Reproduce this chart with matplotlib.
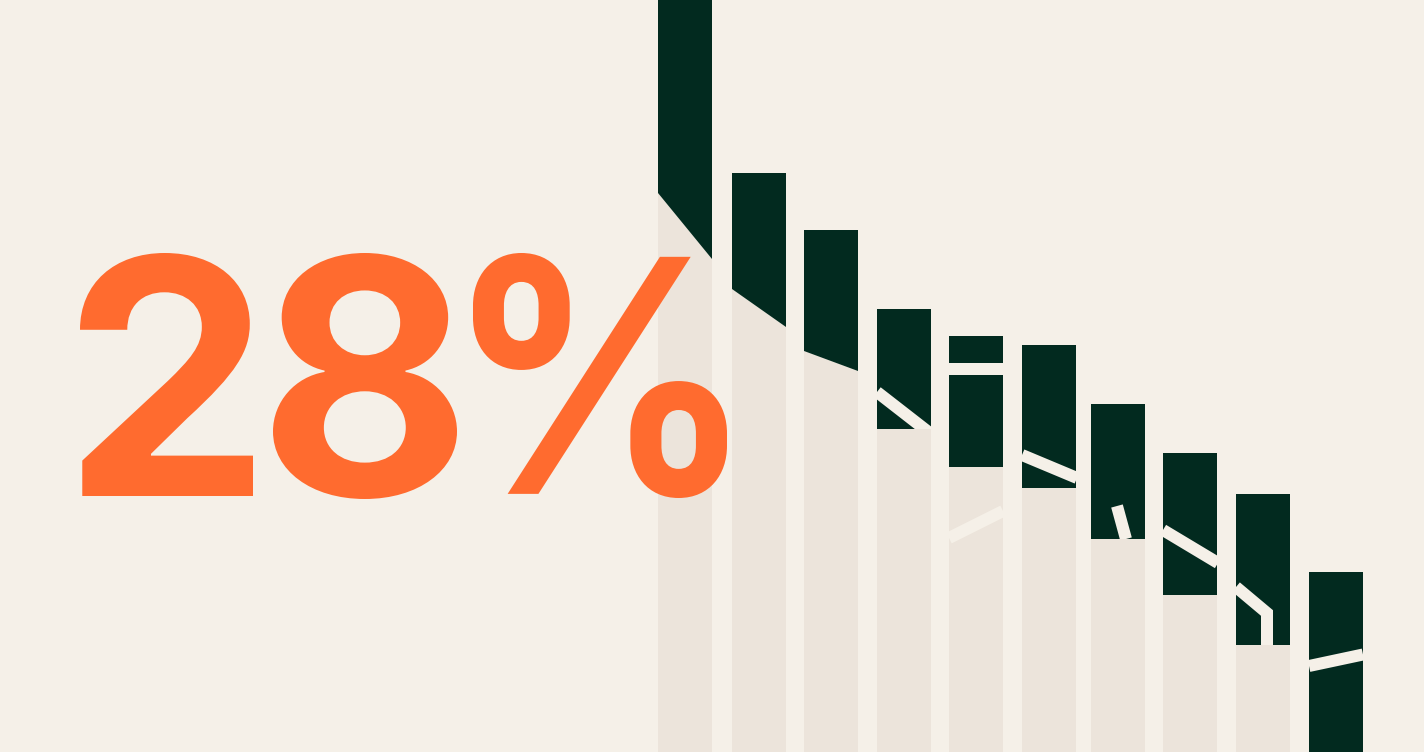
import matplotlib
matplotlib.use("Agg")
import matplotlib.pyplot as plt
from matplotlib.patches import Polygon, Rectangle, PathPatch
from matplotlib.textpath import TextPath
from matplotlib.font_manager import FontProperties
from matplotlib.transforms import Affine2D

# =================== DATA ===================
# canvas units: x 0..1424, y 0..752 (y up)
BAR_X      = [685, 759, 831, 904, 976, 1049, 1118, 1190, 1263, 1336]
BAR_TOP    = [760, 579, 522, 443, 416, 407, 348, 299, 258, 180]
# where the dark part ends (left edge, right edge)
SPLIT_L    = [559, 463, 401, 323, 285, 264, 213, 157, 107, 0]
SPLIT_R    = [493, 425, 381, 323, 285, 264, 213, 157, 107, 0]

# white cut strokes per bar: (xs, ys, clip to "dark" part or whole "bar")
CUTS = {
    3: [([877, 931], [360, 318], "dark")],
    4: [([949, 1003], [383, 383], "dark"), ([949, 1003], [214, 241], "bar")],
    5: [([1022, 1077], [297, 274], "dark")],
    6: [([1117, 1126], [246, 213], "dark")],
    7: [([1163, 1218], [222, 189], "dark")],
    8: [([1236, 1267, 1267], [165, 139, 100], "dark")],
    9: [([1309, 1363], [86, 97.5], "dark")],
}

# big label, one glyph per box (x0, x1, y0, y1)
LABEL_CHARS = ["2", "8", "%"]
LABEL_BOXES = [(80, 253, 256, 499), (273, 457, 253, 499), (473, 727, 254, 499)]

BAR_W    = 54
BG       = "#F5F0E8"
DARK     = "#022A1F"
LIGHT    = "#ECE4DB"
ORANGE   = "#FF6B2F"
CUT_LW   = 12 * 72 / 100   # ~12 px


def glyph_patch(ch, box, prop):
    tp = TextPath((0, 0), ch, size=100, prop=prop)
    ext = tp.get_extents()
    x0, x1, y0, y1 = box
    sx = (x1 - x0) / ext.width
    sy = (y1 - y0) / ext.height
    tr = Affine2D().translate(-ext.x0, -ext.y0).scale(sx, sy).translate(x0, y0)
    return PathPatch(tr.transform_path(tp), facecolor=ORANGE, edgecolor="none", zorder=5)


def main():
    fig = plt.figure(figsize=(14.24, 7.52), dpi=100)
    fig.patch.set_facecolor(BG)
    ax = fig.add_axes([0, 0, 1, 1])
    ax.set_xlim(0, 1424)
    ax.set_ylim(0, 752)
    ax.set_facecolor(BG)
    ax.axis("off")

    for i, xc in enumerate(BAR_X):
        x0, x1 = xc - BAR_W / 2, xc + BAR_W / 2
        # light lower part
        ax.add_patch(Polygon([(x0, 0), (x1, 0), (x1, SPLIT_R[i]), (x0, SPLIT_L[i])],
                             closed=True, facecolor=LIGHT, edgecolor="none", zorder=1))
        # dark upper part
        dark = Polygon([(x0, SPLIT_L[i]), (x1, SPLIT_R[i]), (x1, BAR_TOP[i]), (x0, BAR_TOP[i])],
                       closed=True, facecolor=DARK, edgecolor="none", zorder=2)
        ax.add_patch(dark)
        for xs, ys, where in CUTS.get(i, []):
            ln, = ax.plot(xs, ys, color=BG, lw=CUT_LW, solid_capstyle="butt",
                          solid_joinstyle="miter", zorder=3)
            if where == "dark":
                ln.set_clip_path(dark)
            else:
                ln.set_clip_path(Rectangle((x0, 0), BAR_W, BAR_TOP[i], transform=ax.transData))

    prop = FontProperties(family="Inter", weight="bold")
    for ch, box in zip(LABEL_CHARS, LABEL_BOXES):
        ax.add_patch(glyph_patch(ch, box, prop))

    fig.savefig("out.png", dpi=100, facecolor=BG)
    plt.close(fig)


if __name__ == "__main__":
    main()
